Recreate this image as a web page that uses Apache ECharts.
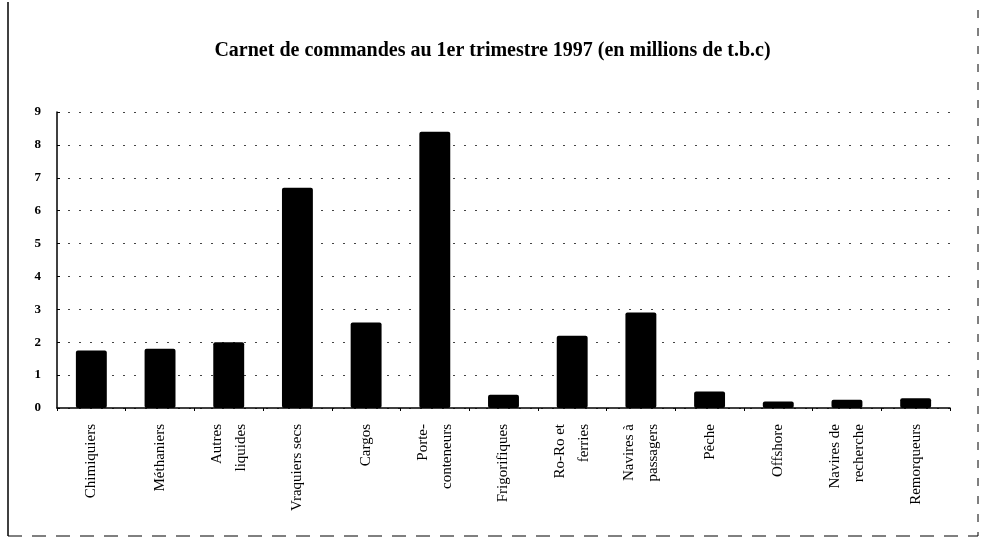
<!DOCTYPE html>
<html>
<head>
<meta charset="utf-8">
<script src="https://cdn.jsdelivr.net/npm/echarts@6/dist/echarts.min.js"></script>
<style>
html,body{margin:0;padding:0;background:#fff;}
#chart{width:985px;height:543px;}
</style>
</head>
<body>
<div id="chart"></div>
<script>
// categories et valeurs (millions de t.b.c)
var categories = ['Chimiquiers', 'Méthaniers', 'Autres\nliquides', 'Vraquiers secs', 'Cargos',
	'Porte-\nconteneurs', 'Frigorifiques', 'Ro-Ro et\nferries', 'Navires à\npassagers', 'Pêche',
	'Offshore', 'Navires de\nrecherche', 'Remorqueurs'];
var values = [1.75, 1.8, 2.0, 6.7, 2.6, 8.4, 0.4, 2.2, 2.9, 0.5, 0.2, 0.25, 0.3];
var yTicks = [0, 1, 2, 3, 4, 5, 6, 7, 8, 9];

var myChart = echarts.init(document.getElementById('chart'));

myChart.setOption({
	backgroundColor: '#fff',
	animation: false,
	title: {
		text: 'Carnet de commandes au 1er trimestre 1997 (en millions de t.b.c)',
		left: 'center',
		top: 36,
		textStyle: {
			fontFamily: 'Liberation Serif',
			fontWeight: 'bold',
			fontSize: 20,
			color: '#000'
		}
	},
	grid: {
		left: 57,
		right: 35,
		top: 112,
		bottom: 135
	},
	xAxis: {
		type: 'category',
		data: categories,
		axisLine: {lineStyle: {color: '#000', width: 1.5}},
		axisTick: {show: true, length: 3, lineStyle: {color: '#000'}},
		axisLabel: {
			rotate: 90,
			interval: 0,
			margin: 16,
			color: '#000',
			fontFamily: 'Liberation Serif',
			fontSize: 15,
			lineHeight: 24
		}
	},
	yAxis: {
		type: 'value',
		min: yTicks[0],
		max: yTicks[yTicks.length - 1],
		interval: 1,
		axisLine: {show: true, lineStyle: {color: '#000', width: 1.5}},
		axisTick: {show: true, length: 3, inside: true, lineStyle: {color: '#000'}},
		axisLabel: {
			color: '#000',
			fontFamily: 'Liberation Serif',
			fontWeight: 'bold',
			fontSize: 13,
			margin: 16
		},
		splitLine: {
			show: true,
			lineStyle: {color: '#444', width: 1, type: [2, 9]}
		}
	},
	series: [{
		type: 'bar',
		data: values,
		barWidth: '45%',
		itemStyle: {color: '#000', borderRadius: 2}
	}],
	graphic: [
		{type: 'line', shape: {x1: 8, y1: 2, x2: 8, y2: 536}, style: {stroke: '#000', lineWidth: 1.5}},
		{type: 'line', shape: {x1: 8, y1: 536, x2: 978, y2: 536}, style: {stroke: '#000', lineWidth: 1, lineDash: [14, 10]}},
		{type: 'line', shape: {x1: 978, y1: 10, x2: 978, y2: 536}, style: {stroke: '#000', lineWidth: 1, lineDash: [8, 10]}}
	]
});
</script>
</body>
</html>
